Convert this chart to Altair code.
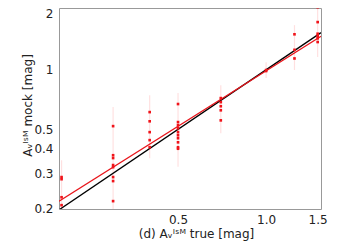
import altair as alt
import pandas as pd

# true A_V values of each group and the mock A_V values
group_true = [0.2, 0.3, 0.4, 0.5, 0.7, 1.0, 1.25, 1.5]
mock_values = [
    [0.287, 0.280, 0.227, 0.207],
    [0.519, 0.370, 0.358, 0.330, 0.322, 0.287, 0.274, 0.217],
    [0.611, 0.549, 0.484, 0.441, 0.406],
    [0.671, 0.544, 0.525, 0.506, 0.484, 0.467, 0.451, 0.430, 0.406, 0.399],
    [0.719, 0.686, 0.654, 0.624, 0.555],
    [0.996, 0.985],
    [1.51, 1.26, 1.14],
    [2.07, 1.74, 1.52, 1.48, 1.44, 1.38],
]
err_low = [0.198, 0.198, 0.357, 0.324, 0.478, 0.908, 0.997, 1.16]
err_high = [0.349, 0.648, 0.744, 0.762, 0.836, 1.09, 1.68, 2.25]

# fit line (power law in log-log space) and one-to-one line
fit_slope = 0.93
fit_at_one = 0.987
line_x = [0.196, 1.54]

x_domain = [0.196, 1.54]
y_domain = [0.198, 2.05]
x_ticks = [0.5, 1.0, 1.5]
y_ticks = [0.2, 0.3, 0.4, 0.5, 1, 2]

pts = pd.DataFrame(
    [{"x": gx, "y": v} for gx, vals in zip(group_true, mock_values) for v in vals]
)
errs = pd.DataFrame({"x": group_true, "lo": err_low, "hi": err_high})
lines = pd.DataFrame(
    [{"x": lx, "y": lx, "s": "one"} for lx in line_x]
    + [{"x": lx, "y": fit_at_one * lx ** fit_slope, "s": "fit"} for lx in line_x]
)

xs = alt.Scale(type="log", domain=x_domain, nice=False)
ys = alt.Scale(type="log", domain=y_domain, nice=False)

xax = alt.Axis(
    values=x_ticks, format=".1f", title="(d) Aᵥᴵˢᴹ true [mag]",
    tickSize=0, labelPadding=5, domain=False, grid=False,
    labelFontSize=12, titleFontSize=12, titleFontWeight="normal",
    labelColor="#222", titleColor="#222", labelFont="DejaVu Sans", titleFont="DejaVu Sans",
    titleX=137, titleY=24, titleBaseline="middle", titleAnchor="start", titleAlign="center",
    labelFlush=False,
)
yax = alt.Axis(
    values=y_ticks, format="~g", title="Aᵥᴵˢᴹ mock [mag]",
    tickSize=0, labelPadding=6, domain=False, grid=False,
    labelFontSize=12, titleFontSize=12, titleFontWeight="normal",
    labelColor="#222", titleColor="#222", labelFont="DejaVu Sans", titleFont="DejaVu Sans",
    titleX=-32, titleY=97, titleBaseline="middle", titleAlign="center", titleAngle=-90,
    labelFlush=False,
    labelOffset={"condition": {"test": "datum.value >= 1.9", "value": 3}, "value": 0},
)

err = alt.Chart(errs).mark_rule(color="red", opacity=0.12, strokeWidth=1.2, clip=True).encode(
    x=alt.X("x:Q", scale=xs, axis=xax),
    y=alt.Y("lo:Q", scale=ys, axis=yax),
    y2="hi:Q",
)
ln = alt.Chart(lines).mark_line(strokeWidth=1.3, clip=True).encode(
    x=alt.X("x:Q", scale=xs),
    y=alt.Y("y:Q", scale=ys),
    color=alt.Color("s:N", scale=alt.Scale(domain=["one", "fit"], range=["black", "#e8141a"]), legend=None),
)
pt = alt.Chart(pts).mark_square(size=7, color="#f0141a", opacity=1).encode(
    x=alt.X("x:Q", scale=xs),
    y=alt.Y("y:Q", scale=ys),
)

chart = alt.layer(err, ln, pt).properties(
    width=262, height=201,
    autosize=alt.AutoSizeParams(type="none"),
    padding={"left": 51, "top": 0, "right": 10, "bottom": 34},
).configure_view(stroke="#999", strokeWidth=1)

chart.save("out.html", embed_options={"renderer": "svg", "actions": False})
